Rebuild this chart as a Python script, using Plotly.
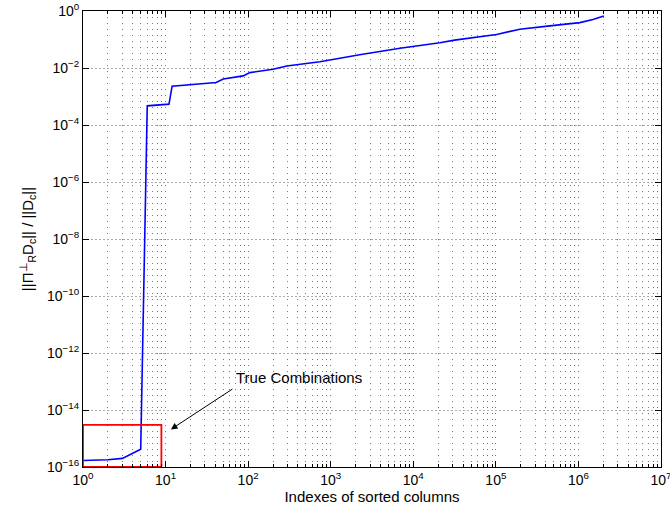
import plotly.graph_objects as go

# Sorted column index and normalized residual norm
col_index = [1, 2, 3, 4, 5, 6, 11, 12, 41, 50, 87, 105, 200, 294, 740, 2240,
             6900, 21000, 31600, 102000, 195000, 450000, 1040000, 1500000, 2030000]
residual = [1.7e-16, 1.8e-16, 2.0e-16, 3.0e-16, 4.2e-16, 4.7e-4, 5.4e-4, 2.3e-3,
            3.1e-3, 4.1e-3, 5.3e-3, 6.9e-3, 9.1e-3, 0.0117, 0.0165, 0.029,
            0.049, 0.077, 0.095, 0.15, 0.23, 0.30, 0.39, 0.50, 0.67]

# Box around the exact (true) combinations
box_x = [1, 8.9, 8.9, 1, 1]
box_y = [1e-16, 1e-16, 3e-15, 3e-15, 1e-16]

x_decades = list(range(0, 8))
y_decades = list(range(-16, 1, 2))
x_ticktext = [f"10<sup>{k}</sup>" for k in x_decades]
y_ticktext = [f"10<sup>{str(k).replace('-', '−')}</sup>" for k in y_decades]
x_minor = [m * 10 ** k for k in range(0, 7) for m in range(2, 10)]

font_family = "Liberation Sans, Arial, Helvetica, sans-serif"

fig = go.Figure()
fig.add_trace(go.Scatter(x=col_index, y=residual, mode="lines",
                         line=dict(color="#0000ff", width=1.6),
                         showlegend=False, hoverinfo="skip"))
fig.add_trace(go.Scatter(x=box_x, y=box_y, mode="lines",
                         line=dict(color="#ff0000", width=1.8),
                         showlegend=False, hoverinfo="skip"))

grid_dash = "1px,5px"
fig.update_xaxes(
    type="log", range=[-1e-6, 7.00001], automargin=False,
    tickmode="array", tickvals=[10 ** k for k in x_decades], ticktext=x_ticktext,
    ticklabeloverflow="allow",
    ticks="inside", ticklen=6, tickcolor="black", tickwidth=1,
    showline=True, linecolor="black", linewidth=1, mirror="allticks",
    showgrid=True, gridcolor="#777777", griddash=grid_dash, gridwidth=1,
    minor=dict(tickmode="array", tickvals=x_minor, ticks="inside", ticklen=3,
               tickcolor="black", showgrid=True, gridcolor="#777777",
               griddash=grid_dash, gridwidth=1),
    zeroline=False,
    tickfont=dict(size=14, color="black", family=font_family),
    title=dict(text="Indexes of sorted columns", standoff=4,
               font=dict(size=15, color="black", family=font_family)),
)
fig.update_yaxes(
    type="log", range=[-16.00001, 0.00001], automargin=False,
    tickmode="array", tickvals=[10.0 ** k for k in y_decades], ticktext=y_ticktext,
    ticklabeloverflow="allow",
    ticks="inside", ticklen=6, tickcolor="black", tickwidth=1,
    showline=True, linecolor="black", linewidth=1, mirror="allticks",
    showgrid=True, gridcolor="#aaaaaa", griddash="2px,2px", gridwidth=1,
    zeroline=False,
    tickfont=dict(size=14, color="black", family=font_family),
    title=dict(text="||Π<sup>⊥</sup><sub>R</sub>D<sub>c</sub>|| / ||D<sub>c</sub>||",
               standoff=9, font=dict(size=15, color="black", family=font_family)),
)

# Arrow pointing at the box, with its label
fig.add_annotation(x=1.065, y=-14.68, ax=1.828, ay=-13.23,
                   xref="x", yref="y", axref="x", ayref="y",
                   text="", showarrow=True, arrowhead=2, arrowsize=1.3,
                   arrowwidth=1, arrowcolor="black")
fig.add_annotation(x=1.83, y=-12.85, xref="x", yref="y", text="True Combinations",
                   showarrow=False, xanchor="left", yanchor="middle",
                   font=dict(size=15, color="black", family=font_family))

fig.update_layout(
    width=670, height=518,
    margin=dict(l=83, r=9, t=11, b=51, autoexpand=False),
    paper_bgcolor="white", plot_bgcolor="white",
    font=dict(family=font_family, color="black"),
)

fig.write_html("out.html")
